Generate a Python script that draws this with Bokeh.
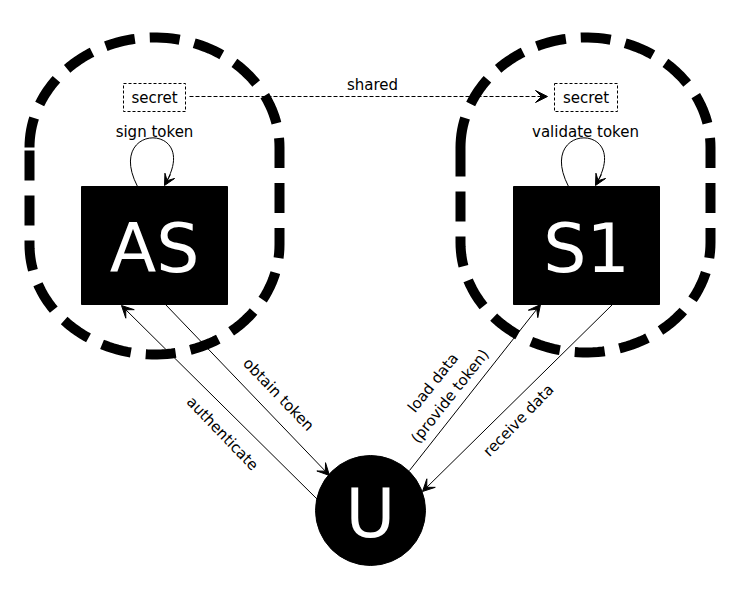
import numpy as np
from bokeh.plotting import figure
from bokeh.models import Range1d, Arrow, VeeHead
from bokeh.core.properties import value
from bokeh.embed import file_html
from bokeh.resources import INLINE

H = 614  # reference height, y values below are measured from the top


def Y(v):
    return H - np.asarray(v, dtype=float)


# nodes
box_names = ["AS", "S1"]
box_left = [89, 521]
box_right = [235, 667]
box_top = [194, 194]
box_bottom = [312, 312]

zone_cx = [162, 593]
zone_rx = [125, 125]
zone_top = [45, 45]
zone_bottom = [362, 360]
zone_ry = [110, 110]

secret_left = [131, 562]
secret_right = [193, 625]
secret_top = [91, 91]
secret_bottom = [119, 119]

loop_labels = ["sign token", "validate token"]

user_x, user_y, user_r = 378, 518, 55

# edges: (x_start, y_start, x_end, y_end, label, label_x, label_y, angle)
edges = [
    (173, 312, 337, 483, "obtain token", 286, 402, -0.805),
    (325, 507, 129, 313, "authenticate", 230, 441, -0.805),
    (417, 478, 548, 312, "load data\n(provide token)", 449, 397, 0.90),
    (620, 312, 430, 499, "receive data", 526, 428, 0.80),
]

FONT = value("DejaVu Sans")

p = figure(width=740, height=598, x_range=Range1d(8, 748), y_range=Range1d(8, 606),
           output_backend="svg", toolbar_location=None, min_border=0)
p.axis.visible = False
p.grid.visible = False
p.outline_line_color = None

# dashed security zones
for cx, rx, top, bot, ry in zip(zone_cx, zone_rx, zone_top, zone_bottom, zone_ry):
    t1 = np.linspace(np.pi, 0, 80)
    t2 = np.linspace(0, -np.pi, 80)
    xs = np.concatenate([cx + rx * np.cos(t1), cx + rx * np.cos(t2), [cx - rx]])
    ys = np.concatenate([top + ry - ry * np.sin(t1), bot - ry - ry * np.sin(t2), [top + ry]])
    p.line(xs, Y(ys), line_color="black", line_width=10, line_dash="30 15")

# boxes
p.quad(left=box_left, right=box_right, top=Y(box_top), bottom=Y(box_bottom),
       fill_color="black", line_color="black")
p.text(x=[(l + r) / 2 for l, r in zip(box_left, box_right)],
       y=Y([(t + b) / 2 + 3 for t, b in zip(box_top, box_bottom)]),
       text=box_names, text_color="white", text_font=FONT, text_font_size="68px",
       text_align="center", text_baseline="middle")

# secret boxes
p.quad(left=secret_left, right=secret_right, top=Y(secret_top), bottom=Y(secret_bottom),
       fill_color="white", line_color="black", line_width=1, line_dash="3 2")
p.text(x=[(l + r) / 2 for l, r in zip(secret_left, secret_right)],
       y=Y([(t + b) / 2 for t, b in zip(secret_top, secret_bottom)]),
       text=["secret", "secret"], text_font=FONT, text_font_size="15px",
       text_align="center", text_baseline="middle")

# shared arrow
p.add_layout(Arrow(x_start=197, y_start=H - 104, x_end=555, y_end=H - 104,
                   line_width=1, line_dash="4 2",
                   end=VeeHead(size=12, fill_color="black", line_color="black")))
p.text(x=[380], y=Y([92]), text=["shared"], text_font=FONT, text_font_size="15px",
       text_align="center", text_baseline="middle")

# self loops
for cx, lab in zip(zone_cx, loop_labels):
    p.text(x=[cx], y=Y([139]), text=[lab], text_font=FONT, text_font_size="15px",
           text_align="center", text_baseline="middle")
    x0, x1 = cx - 17, cx + 10
    p.bezier(x0=[x0], y0=Y([194]), x1=[x1 + 2], y1=Y([189]),
             cx0=[cx - 50], cy0=Y([130]), cx1=[cx + 45], cy1=Y([130]),
             line_color="black", line_width=1)
    p.add_layout(Arrow(x_start=x1 + 6, y_start=H - 182, x_end=x1, y_end=H - 193,
                       line_width=1,
                       end=VeeHead(size=11, fill_color="black", line_color="black")))

# user node
p.circle(x=[user_x], y=Y([user_y]), radius=user_r, fill_color="black", line_color="black")
p.text(x=[user_x], y=Y([user_y + 3]), text=["U"], text_color="white", text_font=FONT,
       text_font_size="68px", text_align="center", text_baseline="middle")

# edges
for xs, ys, xe, ye, lab, lx, ly, ang in edges:
    p.add_layout(Arrow(x_start=xs, y_start=H - ys, x_end=xe, y_end=H - ye, line_width=1,
                       end=VeeHead(size=12, fill_color="black", line_color="black")))
    p.text(x=[lx], y=Y([ly]), text=[lab], angle=ang, text_font=FONT, text_font_size="15px",
           text_align="center", text_baseline="middle", text_line_height=1.2)

open("out.html", "w").write(file_html(p, INLINE))
